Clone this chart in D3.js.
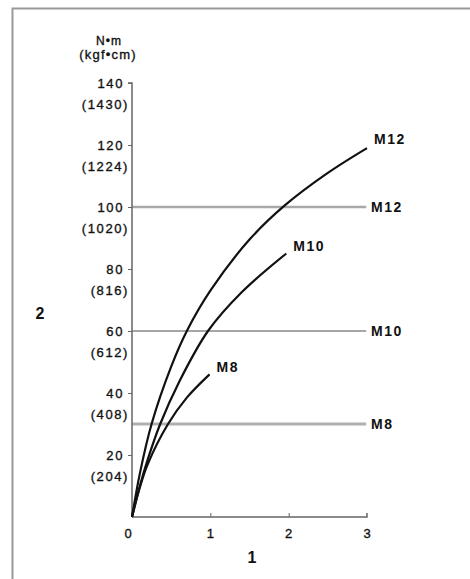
<!DOCTYPE html>
<html><head><meta charset="utf-8">
<script src="https://cdn.jsdelivr.net/npm/d3@7"></script>
<style>body{margin:0;background:#fff}svg{display:block}text{font-family:"Liberation Sans",Arial,sans-serif;fill:#111}</style>
</head><body>
<script>
const yTicks = [0, 20, 40, 60, 80, 100, 120, 140];
const yTickSub = ["", "(204)", "(408)", "(612)", "(816)", "(1020)", "(1224)", "(1430)"];
const xTicks = [0, 1, 2, 3];
const m12x = [0, 0.1, 0.25, 0.5, 0.7, 1, 1.5, 1.95, 2.5, 3];
const m12y = [0, 14, 30, 48.5, 60, 73, 89.5, 100.5, 111, 119];
const m10x = [0, 0.1, 0.2, 0.36, 0.6, 0.97, 1.4, 1.97];
const m10y = [0, 10, 18.5, 30, 43.5, 60, 72.5, 85];
const m8x = [0, 0.1, 0.2, 0.46, 0.7, 0.99];
const m8y = [0, 9.5, 17, 30, 38.5, 46];
const curveLabels = ["M12", "M10", "M8"];
const limitValues = [100, 60, 30];
const limitLabels = ["M12", "M10", "M8"];

const W = 470, H = 579;
const svg = d3.select("body").append("svg").attr("width", W).attr("height", H);
svg.append("rect").attr("x", 12.5).attr("y", 8.5).attr("width", 480).attr("height", 600)
  .attr("fill", "none").attr("stroke", "#999").attr("stroke-width", 2);

const x = d3.scaleLinear().domain([0, 3]).range([132, 367]);
const y = d3.scaleLinear().domain([0, 140]).range([517, 83]);

// limit lines
const limStyles = [{c:"#a8a8a8", w:2.5}, {c:"#888", w:1.6}, {c:"#b0b0b0", w:3}];
limitValues.forEach((v, i) => {
  svg.append("line").attr("x1", x(0)).attr("x2", x(2.99)).attr("y1", y(v)).attr("y2", y(v))
    .attr("stroke", limStyles[i].c).attr("stroke-width", limStyles[i].w);
  svg.append("text").attr("x", x(3) + 4).attr("y", y(v)).attr("dy", "0.35em")
    .attr("font-size", 14).attr("font-weight", "bold").attr("letter-spacing", 1.5).text(limitLabels[i]);
});

// axes
const yAxis = d3.axisLeft(y).tickValues(yTicks).tickSize(4).tickFormat("");
const ga = svg.append("g").attr("transform", `translate(${x(0)},0)`).call(yAxis);
ga.select(".domain").attr("stroke", "#666").attr("stroke-width", 1.5).attr("d", `M-4,${y(140)}H0V${y(0)}`);
ga.selectAll(".tick line").attr("stroke", "#666");
ga.selectAll(".tick").filter(d => d === 0).remove();
const xAxis = d3.axisTop(x).tickValues(xTicks).tickSize(4).tickFormat("");
const gx = svg.append("g").attr("transform", `translate(0,${y(0)})`).call(xAxis);
gx.select(".domain").attr("stroke", "#666").attr("stroke-width", 1.5).attr("d", `M${x(0)},0H${x(3)}V-4`);
gx.selectAll(".tick line").attr("stroke", "#666");
gx.selectAll(".tick").filter(d => d === 0 || d === 3).select("line").remove();

const tick = (sel) => sel.attr("stroke", "#111").attr("stroke-width", 0.35);
yTicks.forEach((v, i) => {
  if (v === 0) return;
  svg.append("text").attr("x", 124).attr("y", y(v)).attr("dy", "0.35em").attr("text-anchor", "end")
    .attr("font-size", 13).attr("letter-spacing", 1.6).text(v).call(tick);
  svg.append("text").attr("x", 129).attr("y", y(v) + 21).attr("dy", "0.35em").attr("text-anchor", "end")
    .attr("font-size", 13).attr("letter-spacing", 1.6).text(yTickSub[i]).call(tick);
});
xTicks.forEach(v => {
  svg.append("text").attr("x", x(v) - (v === 0 ? 4 : 0)).attr("y", y(0) + 16).attr("dy", "0.35em")
    .attr("text-anchor", "middle").attr("font-size", 13).text(v).call(tick);
});

svg.append("text").attr("x", 109).attr("y", 45).attr("text-anchor", "middle").attr("font-size", 12)
  .attr("letter-spacing", 1).text("N•m").call(tick);
svg.append("text").attr("x", 108).attr("y", 59).attr("text-anchor", "middle").attr("font-size", 13)
  .attr("letter-spacing", 1.2).text("(kgf•cm)").call(tick);
svg.append("text").attr("x", 40).attr("y", 313).attr("dy", "0.35em").attr("text-anchor", "middle")
  .attr("font-size", 16).attr("font-weight", "bold").text("2");
svg.append("text").attr("x", 252).attr("y", 557).attr("dy", "0.35em").attr("text-anchor", "middle")
  .attr("font-size", 16).attr("font-weight", "bold").text("1");

// curves
const line = d3.line().x(d => x(d[0])).y(d => y(d[1])).curve(d3.curveCatmullRom.alpha(0.5));
const series = [[m12x, m12y], [m10x, m10y], [m8x, m8y]];
const labelOff = [[7, -9], [7, -7], [7, -7]];
series.forEach(([xs, ys], i) => {
  const pts = xs.map((v, j) => [v, ys[j]]);
  svg.append("path").datum(pts).attr("d", line).attr("fill", "none")
    .attr("stroke", "#111").attr("stroke-width", 2.2);
  const last = pts[pts.length - 1];
  svg.append("text").attr("x", x(last[0]) + labelOff[i][0]).attr("y", y(last[1]) + labelOff[i][1])
    .attr("dy", "0.35em").attr("font-size", 14).attr("font-weight", "bold").attr("letter-spacing", 1.5)
    .text(curveLabels[i]);
});
</script>
</body></html>
